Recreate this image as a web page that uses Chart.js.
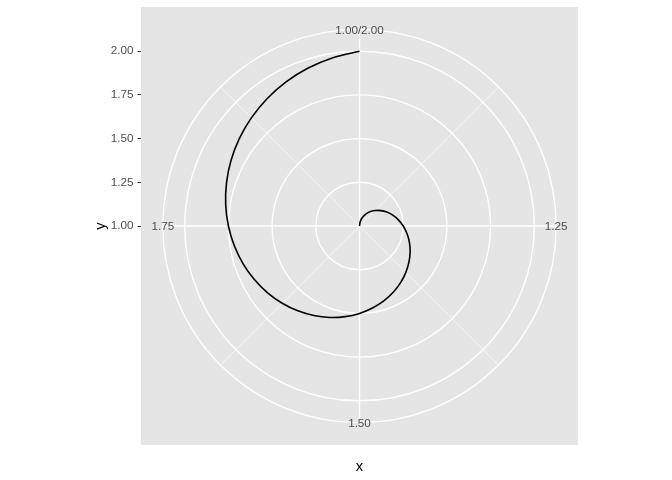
<!DOCTYPE html>
<html>
<head>
<meta charset="utf-8">
<script src="https://cdn.jsdelivr.net/npm/chart.js@4.4.1/dist/chart.umd.min.js"></script>
<style>
  html, body { margin: 0; padding: 0; background: #fff; }
</style>
</head>
<body>
<canvas id="chart" width="672" height="480"></canvas>
<script>
// ── Data ────────────────────────────────────────────────────────────────────

const xValues = [1.000, 1.025, 1.050, 1.075, 1.100, 1.125, 1.150, 1.175, 1.200, 1.225,
                 1.250, 1.275, 1.300, 1.325, 1.350, 1.375, 1.400, 1.425, 1.450, 1.475,
                 1.500, 1.525, 1.550, 1.575, 1.600, 1.625, 1.650, 1.675, 1.700, 1.725,
                 1.750, 1.775, 1.800, 1.825, 1.850, 1.875, 1.900, 1.925, 1.950, 1.975,
                 2.000];
const yValues = [1.000, 1.025, 1.050, 1.075, 1.100, 1.125, 1.150, 1.175, 1.200, 1.225,
                 1.250, 1.275, 1.300, 1.325, 1.350, 1.375, 1.400, 1.425, 1.450, 1.475,
                 1.500, 1.525, 1.550, 1.575, 1.600, 1.625, 1.650, 1.675, 1.700, 1.725,
                 1.750, 1.775, 1.800, 1.825, 1.850, 1.875, 1.900, 1.925, 1.950, 1.975,
                 2.000];

const thetaBreaks = [1.00, 1.25, 1.50, 1.75];
const thetaLabels = ['1.00/2.00', '1.25', '1.50', '1.75'];
const thetaMinor  = [1.125, 1.375, 1.625, 1.875];
const rBreaks     = [1.00, 1.25, 1.50, 1.75, 2.00];
const rLabels     = ['1.00', '1.25', '1.50', '1.75', '2.00'];

const thetaRange = [1, 2];
const rRange     = [1, 2];
const OUTER      = 1.125;   // label / outer ring radius (0.45 vs 0.40 of the panel)

// ── Helpers ─────────────────────────────────────────────────────────────────

const FONT = "'Liberation Sans', Arial, Helvetica, sans-serif";

function angleOf(t) {
    return 2 * Math.PI * (t - thetaRange[0]) / (thetaRange[1] - thetaRange[0]);
}

function radiusOf(r) {
    return (r - rRange[0]) / (rRange[1] - rRange[0]);
}

function toXY(t, r) {
    const a = angleOf(t), rr = radiusOf(r);
    return { x: rr * Math.sin(a), y: rr * Math.cos(a) };
}

const spiral = xValues.map((t, i) => toXY(t, yValues[i]));

// ── Polar grid + theta labels ───────────────────────────────────────────────

const polarGrid = {
    id: 'polarGrid',
    beforeDatasetsDraw(chart) {
        const { ctx, chartArea: a, scales: { x, y } } = chart;
        const cx = x.getPixelForValue(0);
        const cy = y.getPixelForValue(0);
        const unit = x.getPixelForValue(1) - cx;

        ctx.save();
        ctx.fillStyle = '#E5E5E5';
        ctx.fillRect(a.left, a.top, a.width, a.height);
        ctx.strokeStyle = '#FFFFFF';

        // minor spokes
        ctx.lineWidth = 0.7;
        thetaMinor.forEach(t => {
            const ang = angleOf(t);
            ctx.beginPath();
            ctx.moveTo(cx, cy);
            ctx.lineTo(x.getPixelForValue(OUTER * Math.sin(ang)), y.getPixelForValue(OUTER * Math.cos(ang)));
            ctx.stroke();
        });

        // major spokes
        ctx.lineWidth = 1.4;
        thetaBreaks.forEach(t => {
            const ang = angleOf(t);
            ctx.beginPath();
            ctx.moveTo(cx, cy);
            ctx.lineTo(x.getPixelForValue(OUTER * Math.sin(ang)), y.getPixelForValue(OUTER * Math.cos(ang)));
            ctx.stroke();
        });

        // rings
        const rings = rBreaks.map(radiusOf).filter(r => r > 0).concat([OUTER]);
        rings.forEach(r => {
            ctx.beginPath();
            ctx.arc(cx, cy, r * unit, 0, Math.PI * 2);
            ctx.stroke();
        });
        ctx.restore();
    },
    afterDatasetsDraw(chart) {
        const { ctx, scales: { x, y } } = chart;
        ctx.save();
        ctx.fillStyle = '#4D4D4D';
        ctx.font = `11.7px ${FONT}`;
        ctx.textAlign = 'center';
        ctx.textBaseline = 'middle';
        thetaBreaks.forEach((t, i) => {
            const ang = angleOf(t);
            ctx.fillText(thetaLabels[i],
                x.getPixelForValue(OUTER * Math.sin(ang)),
                y.getPixelForValue(OUTER * Math.cos(ang)) + 1);
        });
        ctx.restore();
    }
};

// ── Chart ───────────────────────────────────────────────────────────────────

new Chart(document.getElementById('chart').getContext('2d'), {
    type: 'scatter',
    data: {
        datasets: [{
            data: spiral,
            showLine: true,
            pointRadius: 0,
            borderColor: '#000000',
            borderWidth: 1.6,
            tension: 0.33,
            fill: false
        }]
    },
    options: {
        responsive: false,
        animation: false,
        layout: { padding: { left: 88, right: 94, top: 7, bottom: 0 } },
        plugins: {
            legend: { display: false },
            tooltip: { enabled: false }
        },
        scales: {
            x: {
                type: 'linear',
                min: -1.25, max: 1.25,
                ticks: { display: false },
                grid: { display: false },
                border: { display: false },
                title: {
                    display: true, text: 'x', color: '#000000',
                    font: { family: FONT, size: 14.67 },
                    padding: { top: 0, bottom: 4.5 }
                },
                afterFit(scale) { scale.height = 35; }
            },
            y: {
                type: 'linear',
                min: -1.2529, max: 1.2529,
                afterBuildTicks(scale) {
                    scale.ticks = rBreaks.map(v => ({ value: radiusOf(v) }));
                },
                ticks: {
                    autoSkip: false,
                    padding: 4,
                    color: '#4D4D4D',
                    font: { family: FONT, size: 11.7 },
                    callback: (v, i) => rLabels[i]
                },
                grid: {
                    display: true,
                    drawOnChartArea: false,
                    drawTicks: true,
                    tickLength: 3.5,
                    color: '#333333',
                    lineWidth: 1
                },
                border: { display: false },
                title: {
                    display: true, text: 'y', color: '#000000',
                    font: { family: FONT, size: 14.67 },
                    padding: { top: 4, bottom: 0 }
                },
                afterFit(scale) {
                    scale.width = 53;
                    scale.paddingTop = 0;
                    scale.paddingBottom = 0;
                }
            }
        }
    },
    plugins: [polarGrid]
});
</script>
</body>
</html>
